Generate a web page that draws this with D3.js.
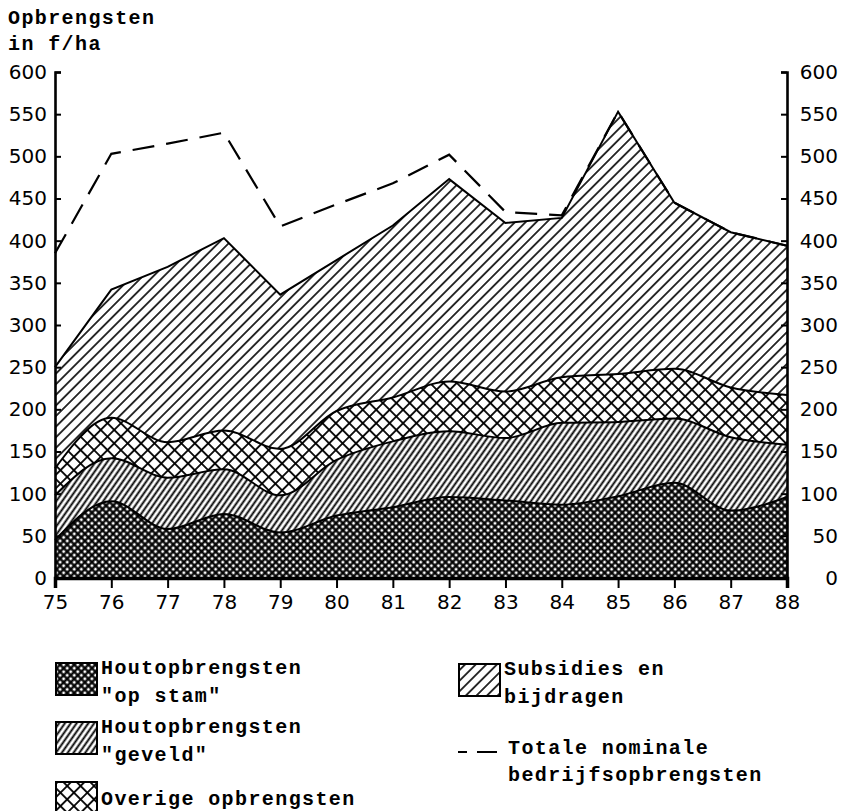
<!DOCTYPE html>
<html>
<head>
<meta charset="utf-8">
<script src="https://cdn.jsdelivr.net/npm/d3@7"></script>
<style>
  body { margin: 0; background: #fff; }
  .mono { font-family: "Liberation Mono", "DejaVu Sans Mono", monospace; font-weight: bold; font-size: 20px; letter-spacing: 1.4px; }
  .tick text { font-family: "DejaVu Sans", sans-serif; font-size: 20px; }
</style>
</head>
<body>
<svg id="chart" width="841" height="811"></svg>
<script>
// Years on the x axis (19xx)
const years = [75, 76, 77, 78, 79, 80, 81, 82, 83, 84, 85, 86, 87, 88];
// Stacked components in f/ha
const opStam    = [45, 91, 58, 76, 54, 74, 84, 96, 92, 87, 97, 113, 80, 96];
const geveld    = [53, 51, 61, 53, 44, 66, 78, 78, 74, 97, 88, 76, 87, 62];
const overige   = [32, 48, 42, 46, 55, 58, 52, 59, 55, 54, 57, 59, 59, 59];
const subsidies = [120, 152, 208, 228, 183, 179, 204, 240, 200, 189, 311, 197, 184, 177];
// Total nominal revenue (dashed line)
const totaal    = [385, 503, 515, 528, 417, 443, 468, 502, 434, 430, 553, 445, 410, 394];
const yTicks = [0, 50, 100, 150, 200, 250, 300, 350, 400, 450, 500, 550, 600];

const svg = d3.select('#chart');
const x = d3.scaleLinear().domain([75, 88]).range([55, 787]);
const y = d3.scaleLinear().domain([0, 600]).range([578, 72]);

// Hatch patterns
let defs = svg.append('defs');
let hatch = (id, spacing, angle, width, cross) => {
    let p = defs.append('pattern')
        .attr('id', id)
        .attr('patternUnits', 'userSpaceOnUse')
        .attr('width', spacing).attr('height', spacing)
        .attr('patternTransform', 'rotate(' + angle + ')');
    p.append('rect').attr('width', spacing).attr('height', spacing).attr('fill', '#fff');
    p.append('line').attr('x1', 0).attr('x2', spacing).attr('y1', spacing / 2).attr('y2', spacing / 2)
        .attr('stroke', '#000').attr('stroke-width', width);
    if (cross) {
        p.append('line').attr('y1', 0).attr('y2', spacing).attr('x1', spacing / 2).attr('x2', spacing / 2)
            .attr('stroke', '#000').attr('stroke-width', width);
    }
};
hatch('p-stam', 5, 45, 2.3, true);
hatch('p-geveld', 4.8, -55, 1.9, false);
hatch('p-overig', 9.5, 45, 1.8, true);
hatch('p-subs', 7.5, -45, 1.6, false);

// Stack the layers
let rows = years.map((yr, i) => ({
    year: yr, opStam: opStam[i], geveld: geveld[i], overige: overige[i], subsidies: subsidies[i]
}));
let keys = ['opStam', 'geveld', 'overige', 'subsidies'];
let series = d3.stack().keys(keys)(rows);
let fills = { opStam: 'url(#p-stam)', geveld: 'url(#p-geveld)', overige: 'url(#p-overig)', subsidies: 'url(#p-subs)' };

// Draw from the top layer down, each filled from zero so the next one covers it
series.slice().reverse().forEach((s) => {
    let curve = s.key === 'subsidies' ? d3.curveLinear : d3.curveMonotoneX;
    let area = d3.area().curve(curve)
        .x(d => x(d.data.year)).y0(y(0)).y1(d => y(d[1]));
    let line = d3.line().curve(curve)
        .x(d => x(d.data.year)).y(d => y(d[1]));
    svg.append('path').attr('d', area(s)).attr('fill', fills[s.key]);
    svg.append('path').attr('d', line(s)).attr('fill', 'none')
        .attr('stroke', '#000').attr('stroke-width', 2);
});

// Total line
svg.append('path')
    .attr('d', d3.line().x((d, i) => x(years[i])).y(d => y(d))(totaal))
    .attr('fill', 'none').attr('stroke', '#000').attr('stroke-width', 2.2)
    .attr('stroke-dasharray', '22,12');

// Axes
let left = svg.append('g').attr('transform', 'translate(55,0)')
    .call(d3.axisLeft(y).tickValues(yTicks).tickSize(-6).tickPadding(8));
let right = svg.append('g').attr('transform', 'translate(787,0)')
    .call(d3.axisRight(y).tickValues(yTicks).tickSize(-6).tickPadding(14));
right.selectAll('.tick text').attr('text-anchor', 'end').attr('x', 51);
let bottom = svg.append('g').attr('transform', 'translate(0,578)')
    .call(d3.axisBottom(x).tickValues(years).tickSize(10).tickPadding(7));
[left, right, bottom].forEach((g) => {
    g.select('.domain').attr('stroke-width', 2.6);
    g.selectAll('.tick line').attr('stroke-width', 2);
});
bottom.select('.domain').attr('stroke-width', 3.5);

// Title
svg.append('text').attr('class', 'mono').attr('x', 8).attr('y', 24).text('Opbrengsten');
svg.append('text').attr('class', 'mono').attr('x', 8).attr('y', 50).text('in f/ha');

// Legend
let legend = [
    { fill: 'url(#p-stam)', x: 56, y: 663, lines: ['Houtopbrengsten', '"op stam"'] },
    { fill: 'url(#p-geveld)', x: 56, y: 722, lines: ['Houtopbrengsten', '"geveld"'] },
    { fill: 'url(#p-overig)', x: 56, y: 782, lines: ['Overige opbrengsten'] },
    { fill: 'url(#p-subs)', x: 459, y: 664, lines: ['Subsidies en', 'bijdragen'] }
];
legend.forEach((d) => {
    svg.append('rect').attr('x', d.x).attr('y', d.y).attr('width', 41).attr('height', 32)
        .attr('fill', d.fill).attr('stroke', '#000').attr('stroke-width', 2);
    d.lines.forEach((t, i) => {
        svg.append('text').attr('class', 'mono').attr('x', d.x + 45).attr('y', d.y + 11 + i * 28 + (d.lines.length === 1 ? 12 : 0))
            .text(t);
    });
});
svg.append('line').attr('x1', 458).attr('x2', 497).attr('y1', 752).attr('y2', 752)
    .attr('stroke', '#000').attr('stroke-width', 2).attr('stroke-dasharray', '9,10,20');
svg.append('text').attr('class', 'mono').attr('x', 508).attr('y', 754).text('Totale nominale');
svg.append('text').attr('class', 'mono').attr('x', 508).attr('y', 781).text('bedrijfsopbrengsten');
</script>
</body>
</html>
